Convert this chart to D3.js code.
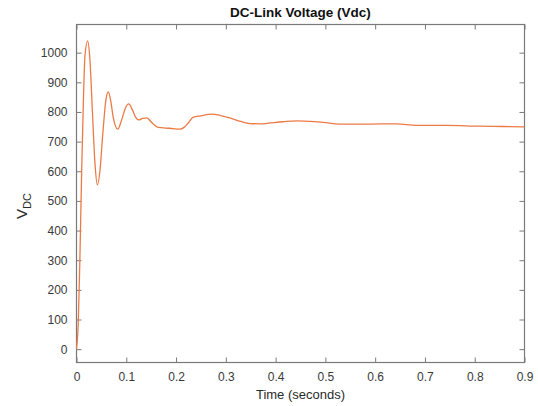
<!DOCTYPE html>
<html>
<head>
<meta charset="utf-8">
<script src="https://cdnjs.cloudflare.com/ajax/libs/d3/7.8.5/d3.min.js"></script>
<style>
  body { margin: 0; background: #fff; }
  text { font-family: "Liberation Sans", Arial, sans-serif; }
</style>
</head>
<body>
<svg width="538" height="406"></svg>
<script>
// time (s) and dc link voltage
var time = [0, 0.0037, 0.007, 0.0104, 0.0137, 0.017, 0.0225, 0.027, 0.032, 0.037, 0.042,
    0.047, 0.053, 0.059, 0.064, 0.069, 0.074, 0.083, 0.091, 0.098, 0.105, 0.112, 0.119,
    0.125, 0.133, 0.141, 0.152, 0.164, 0.187, 0.208, 0.216, 0.224, 0.234, 0.25, 0.271,
    0.29, 0.308, 0.33, 0.348, 0.37, 0.389, 0.415, 0.442, 0.47, 0.496, 0.529, 0.583,
    0.643, 0.683, 0.743, 0.81, 0.857, 0.9];
var vdc = [0, 96, 320, 602, 827, 990, 1040, 975, 800, 630, 554,
    600, 730, 840, 868, 835, 780, 742, 775, 812, 827, 808, 782,
    773, 778, 780, 763, 748, 745, 742, 748, 762, 782, 787, 793,
    788, 780, 768, 761, 760, 763, 767, 770, 768, 765, 759, 759,
    760, 755, 755, 752, 751, 750];

var xTicks = [0, 0.1, 0.2, 0.3, 0.4, 0.5, 0.6, 0.7, 0.8, 0.9];
var yTicks = [0, 100, 200, 300, 400, 500, 600, 700, 800, 900, 1000];

var svg = d3.select("svg"),
    margin = {top: 24.5, right: 13.5, bottom: 43.5, left: 76.5},
    width = +svg.attr("width") - margin.left - margin.right,
    height = +svg.attr("height") - margin.top - margin.bottom;

var x = d3.scaleLinear().domain([0, 0.9]).range([0, width]);
var y = d3.scaleLinear().domain([-45, 1095]).range([height, 0]);

var g = svg.append("g")
    .attr("transform", "translate(" + margin.left + "," + margin.top + ")");

var axisColor = "#7a7a7a";

// bottom and left axes with inward ticks
var xAxis = g.append("g")
    .attr("transform", "translate(0," + height + ")")
    .call(d3.axisBottom(x).tickValues(xTicks).tickSizeInner(-5).tickSizeOuter(0)
        .tickFormat(d3.format("")).tickPadding(10));
var yAxis = g.append("g")
    .call(d3.axisLeft(y).tickValues(yTicks).tickSizeInner(-5).tickSizeOuter(0)
        .tickFormat(d3.format("d")).tickPadding(9));

// mirrored ticks on top and right
var xTop = g.append("g")
    .call(d3.axisTop(x).tickValues(xTicks).tickSizeInner(-5).tickSizeOuter(0).tickFormat(""));
var yRight = g.append("g")
    .attr("transform", "translate(" + width + ",0)")
    .call(d3.axisRight(y).tickValues(yTicks).tickSizeInner(-5).tickSizeOuter(0).tickFormat(""));

[xAxis, yAxis, xTop, yRight].forEach(function (a) {
    a.select(".domain").remove();
    a.selectAll("line").attr("stroke", axisColor);
    a.selectAll("text")
        .attr("fill", "#3a3a3a")
        .style("font-size", "12px");
});

g.append("rect")
    .attr("width", width)
    .attr("height", height)
    .attr("fill", "none")
    .attr("stroke", axisColor)
    .attr("stroke-width", 1.2);

var line = d3.line()
    .x(function (d, i) { return x(time[i]); })
    .y(function (d) { return y(d); })
    .curve(d3.curveMonotoneX);

g.append("path")
    .datum(vdc)
    .attr("fill", "none")
    .attr("stroke", "#ec7a45")
    .attr("stroke-width", 1.3)
    .attr("d", line);

svg.append("text")
    .attr("x", margin.left + width / 2)
    .attr("y", 17)
    .attr("text-anchor", "middle")
    .style("font-size", "13.5px")
    .style("font-weight", "bold")
    .attr("fill", "#111")
    .text("DC-Link Voltage (Vdc)");

svg.append("text")
    .attr("x", margin.left + width / 2)
    .attr("y", 399)
    .attr("text-anchor", "middle")
    .style("font-size", "13px")
    .attr("fill", "#2a2a2a")
    .text("Time (seconds)");

var yl = svg.append("text")
    .attr("transform", "translate(27,206) rotate(-90)")
    .attr("text-anchor", "middle")
    .attr("fill", "#2a2a2a")
    .style("font-size", "15px");
yl.append("tspan").text("V");
yl.append("tspan").attr("dy", 4).style("font-size", "11px").text("DC");
</script>
</body>
</html>
